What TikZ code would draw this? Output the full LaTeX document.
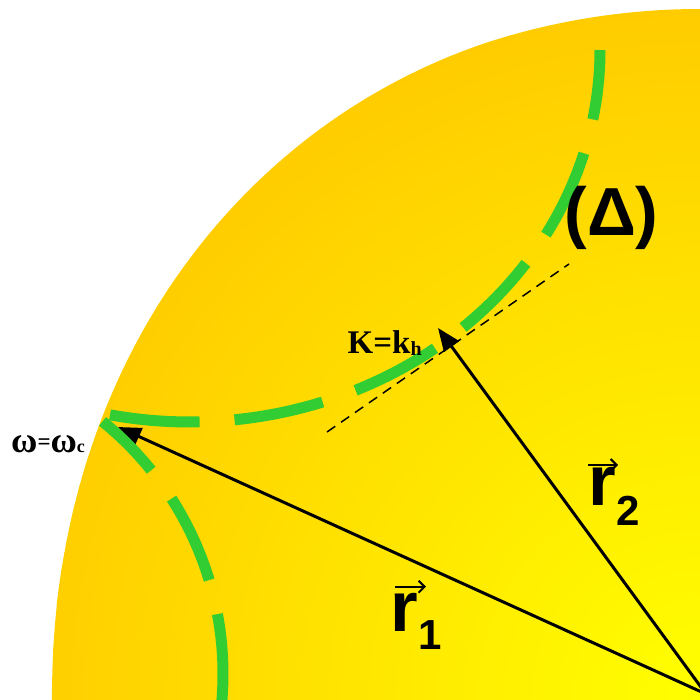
\documentclass[tikz,border=0pt]{standalone}
\usepackage{fontspec}
\usetikzlibrary{arrows.meta}
\newfontfamily\lsans{Liberation Sans}
\newfontfamily\lserif{Liberation Serif}
\definecolor{diskin}{RGB}{255,255,0}
\definecolor{diskout}{RGB}{255,204,0}
\definecolor{curvegreen}{RGB}{50,205,50}
\tikzset{
  greencurve/.style={draw=curvegreen, line width=11pt, dash pattern=on 90pt off 35pt},
  radius vector/.style={draw=black, line width=3pt, -{Triangle[length=23pt,width=18pt]}},
  vecmark/.style={draw=black, line width=2pt, -{Straight Barb[length=6pt,width=12pt]}},
  tangentline/.style={draw=black, line width=1.5pt, dash pattern=on 10pt off 7pt},
  label/.style={inner sep=0pt, anchor=base west}
}
\begin{document}
\begin{tikzpicture}[x=1pt,y=-1pt]
\useasboundingbox (0,0) rectangle (700,699);
\clip (0,0) rectangle (700,699);
% disk with radial gradient
\begin{scope}
  \clip (52,760) -- plot[domain=0.5:89.5, samples=200] ({700-648*pow(cos(\x),0.96)}, {699-690*pow(sin(\x),0.96)}) -- (760,9) -- (760,760) -- cycle;
  \shade[inner color=diskin, outer color=diskout] (700,699) circle (690);
\end{scope}
% named points
\coordinate (O) at (706,694);
\coordinate (tip1) at (118,427);
\coordinate (tip2) at (438,328);
\coordinate (t1) at (327,432);
\coordinate (t2) at (569,264);
% radius vectors
\draw[radius vector] (O) -- (tip1);
\draw[radius vector] (O) -- (tip2);
% tangent line
\draw[tangentline] (t1) -- (t2);
% green dashed curves
\draw[greencurve] plot[domain=0:101.25, samples=150] ({190+410*cos(101.25-\x)}, {50+372*sin(101.25-\x)});
\draw[greencurve, dash phase=21pt] plot[domain=-51:12, samples=100] ({-102+325*cos(\x)}, {674+325*sin(\x)});
% labels
\node[inner sep=0pt, anchor=base] (delta) at (611.5,235) {\lsans\bfseries\fontsize{68}{68}\selectfont (Δ)};
\node[label] (r2lab) at (588.5,505) {\lsans\bfseries\fontsize{71}{71}\selectfont r\raisebox{-20pt}{\fontsize{42}{42}\selectfont 2}};
\node[label] (r1lab) at (390.3,631.7) {\lsans\bfseries\fontsize{71}{71}\selectfont r\raisebox{-18pt}{\fontsize{42}{42}\selectfont 1}};
\coordinate (v2a) at (588,465);
\coordinate (v2b) at (618,465);
\coordinate (v1a) at (395,586.7);
\coordinate (v1b) at (426,586.7);
\draw[vecmark] (v2a) -- (v2b);
\draw[vecmark] (v1a) -- (v1b);
\node[label] (klab) at (347.5,353) {\lserif\bfseries\fontsize{33}{33}\selectfont K=k\raisebox{-2pt}{\fontsize{20}{20}\selectfont h}};
\node[label] (wlab) at (11,452.7) {\lserif\bfseries\fontsize{36}{36}\selectfont ω\raisebox{3pt}{\fontsize{23}{23}\selectfont =}ω{\fontsize{18}{18}\selectfont c}};
\end{tikzpicture}
\end{document}
